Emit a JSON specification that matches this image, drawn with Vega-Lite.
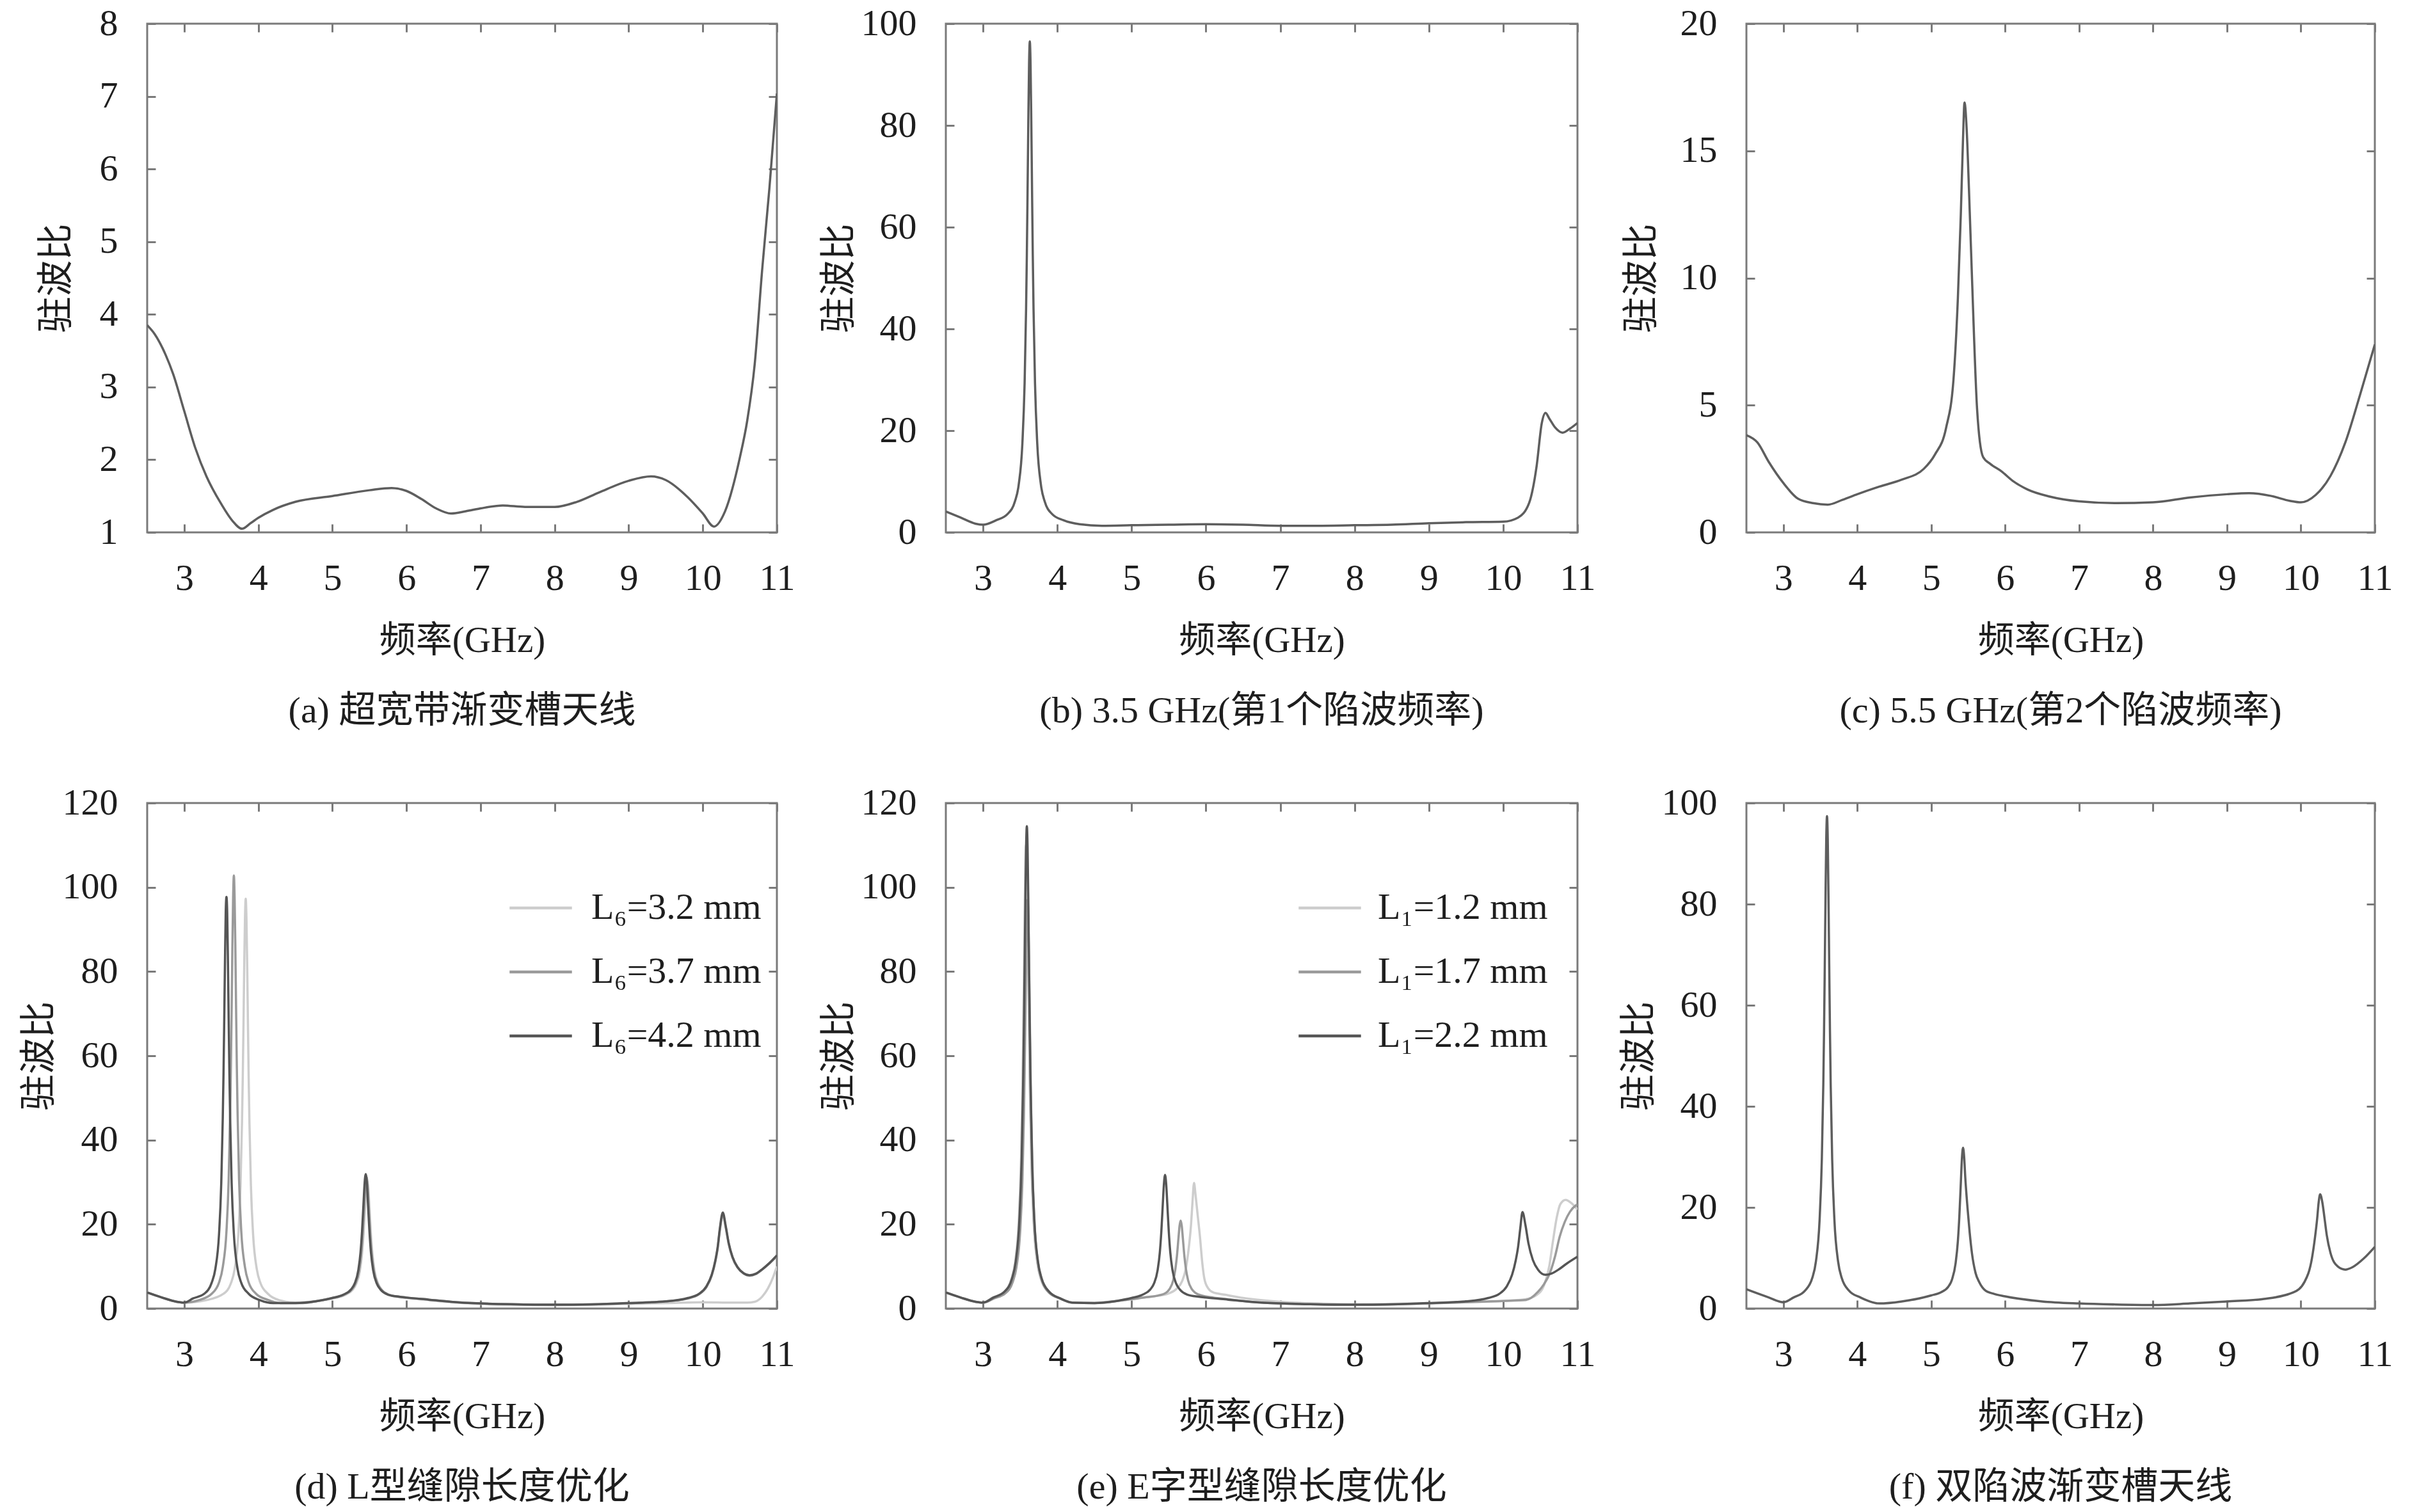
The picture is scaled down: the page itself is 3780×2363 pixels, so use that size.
{
"$schema": "https://vega.github.io/schema/vega-lite/v6.json",
"background": "#ffffff",
"padding": {"left": 30, "top": 6, "right": 10, "bottom": 10},
"bounds": "flush",
"columns": 3,
"spacing": {"row": 423, "column": 264},
"datasets": {
"a": [{"f":2.5,"v":3.85},{"f":2.6,"v":3.73},{"f":2.75,"v":3.44},{"f":2.85,"v":3.18},{"f":3.0,"v":2.67},{"f":3.15,"v":2.16},{"f":3.3,"v":1.77},{"f":3.5,"v":1.39},{"f":3.65,"v":1.16},{"f":3.78,"v":1.05},{"f":3.9,"v":1.13},{"f":4.0,"v":1.2},{"f":4.2,"v":1.31},{"f":4.5,"v":1.42},{"f":5.0,"v":1.5},{"f":5.5,"v":1.58},{"f":5.8,"v":1.61},{"f":6.0,"v":1.57},{"f":6.2,"v":1.46},{"f":6.4,"v":1.33},{"f":6.6,"v":1.26},{"f":6.8,"v":1.29},{"f":7.0,"v":1.33},{"f":7.3,"v":1.37},{"f":7.6,"v":1.35},{"f":8.0,"v":1.35},{"f":8.3,"v":1.42},{"f":8.6,"v":1.55},{"f":9.0,"v":1.71},{"f":9.3,"v":1.77},{"f":9.5,"v":1.72},{"f":9.8,"v":1.48},{"f":10.0,"v":1.26},{"f":10.15,"v":1.08},{"f":10.3,"v":1.29},{"f":10.5,"v":2.03},{"f":10.6,"v":2.54},{"f":10.7,"v":3.31},{"f":10.8,"v":4.6},{"f":10.9,"v":5.75},{"f":11.0,"v":7.04}],
"b": [{"f":2.5,"v":4.1},{"f":2.7,"v":2.9},{"f":2.9,"v":1.7},{"f":3.0,"v":1.5},{"f":3.18,"v":2.4},{"f":3.33,"v":3.6},{"f":3.43,"v":6.1},{"f":3.48,"v":9.3},{"f":3.53,"v":17.5},{"f":3.56,"v":29.3},{"f":3.58,"v":44},{"f":3.59,"v":54.5},{"f":3.6,"v":67.3},{"f":3.61,"v":80.8},{"f":3.62,"v":92},{"f":3.63,"v":96.5},{"f":3.64,"v":92},{"f":3.65,"v":80.8},{"f":3.66,"v":67.3},{"f":3.67,"v":54.5},{"f":3.68,"v":44},{"f":3.7,"v":29.3},{"f":3.73,"v":17.5},{"f":3.78,"v":9.3},{"f":3.83,"v":6.1},{"f":3.93,"v":3.6},{"f":4.08,"v":2.4},{"f":4.3,"v":1.6},{"f":4.6,"v":1.3},{"f":5.0,"v":1.4},{"f":5.5,"v":1.5},{"f":6.0,"v":1.6},{"f":6.5,"v":1.5},{"f":7.0,"v":1.3},{"f":7.5,"v":1.3},{"f":8.0,"v":1.4},{"f":8.5,"v":1.5},{"f":9.0,"v":1.8},{"f":9.5,"v":2.0},{"f":10.0,"v":2.1},{"f":10.2,"v":2.9},{"f":10.35,"v":5.8},{"f":10.45,"v":13},{"f":10.52,"v":21.5},{"f":10.57,"v":23.5},{"f":10.62,"v":22.4},{"f":10.7,"v":20.6},{"f":10.8,"v":19.6},{"f":10.9,"v":20.4},{"f":11.0,"v":21.5}],
"c": [{"f":2.5,"v":3.82},{"f":2.65,"v":3.53},{"f":2.8,"v":2.78},{"f":3.0,"v":1.94},{"f":3.2,"v":1.32},{"f":3.4,"v":1.15},{"f":3.6,"v":1.09},{"f":3.8,"v":1.28},{"f":4.0,"v":1.5},{"f":4.3,"v":1.8},{"f":4.6,"v":2.07},{"f":4.9,"v":2.5},{"f":5.05,"v":3.06},{"f":5.2,"v":4.1},{"f":5.3,"v":5.98},{"f":5.36,"v":9.2},{"f":5.4,"v":12.5},{"f":5.43,"v":15.5},{"f":5.45,"v":16.9},{"f":5.48,"v":15.8},{"f":5.51,"v":13.5},{"f":5.55,"v":10.1},{"f":5.62,"v":4.85},{"f":5.7,"v":2.97},{"f":5.8,"v":2.69},{"f":5.95,"v":2.4},{"f":6.1,"v":2.03},{"f":6.3,"v":1.69},{"f":6.6,"v":1.41},{"f":7.0,"v":1.22},{"f":7.5,"v":1.15},{"f":8.0,"v":1.18},{"f":8.5,"v":1.37},{"f":9.0,"v":1.5},{"f":9.3,"v":1.54},{"f":9.6,"v":1.43},{"f":9.85,"v":1.24},{"f":10.0,"v":1.18},{"f":10.2,"v":1.47},{"f":10.4,"v":2.22},{"f":10.6,"v":3.53},{"f":10.8,"v":5.41},{"f":11.0,"v":7.39}],
"d": [
{"s":"L₆=3.2 mm","f":2.5,"v":3.8},{"s":"L₆=3.2 mm","f":2.7,"v":2.6},{"s":"L₆=3.2 mm","f":2.9,"v":1.6},{"s":"L₆=3.2 mm","f":3.0,"v":1.4},{"s":"L₆=3.2 mm","f":3.3,"v":2.0},{"s":"L₆=3.2 mm","f":3.53,"v":3.5},{"s":"L₆=3.2 mm","f":3.63,"v":6.0},{"s":"L₆=3.2 mm","f":3.68,"v":9.3},{"s":"L₆=3.2 mm","f":3.73,"v":17.5},{"s":"L₆=3.2 mm","f":3.76,"v":29.3},{"s":"L₆=3.2 mm","f":3.78,"v":44.3},{"s":"L₆=3.2 mm","f":3.79,"v":54.7},{"s":"L₆=3.2 mm","f":3.8,"v":67.5},{"s":"L₆=3.2 mm","f":3.81,"v":81.5},{"s":"L₆=3.2 mm","f":3.82,"v":92.5},{"s":"L₆=3.2 mm","f":3.83,"v":97.3},{"s":"L₆=3.2 mm","f":3.84,"v":92.5},{"s":"L₆=3.2 mm","f":3.85,"v":81.5},{"s":"L₆=3.2 mm","f":3.86,"v":67.5},{"s":"L₆=3.2 mm","f":3.87,"v":54.7},{"s":"L₆=3.2 mm","f":3.88,"v":44.3},{"s":"L₆=3.2 mm","f":3.9,"v":29.3},{"s":"L₆=3.2 mm","f":3.93,"v":17.5},{"s":"L₆=3.2 mm","f":3.98,"v":9.3},{"s":"L₆=3.2 mm","f":4.03,"v":6.0},{"s":"L₆=3.2 mm","f":4.13,"v":3.5},{"s":"L₆=3.2 mm","f":4.28,"v":2.0},{"s":"L₆=3.2 mm","f":4.5,"v":1.4},{"s":"L₆=3.2 mm","f":4.8,"v":1.8},{"s":"L₆=3.2 mm","f":5.0,"v":2.4},{"s":"L₆=3.2 mm","f":5.17,"v":3.2},{"s":"L₆=3.2 mm","f":5.27,"v":4.4},{"s":"L₆=3.2 mm","f":5.32,"v":5.8},{"s":"L₆=3.2 mm","f":5.37,"v":8.8},{"s":"L₆=3.2 mm","f":5.4,"v":13},{"s":"L₆=3.2 mm","f":5.42,"v":17.6},{"s":"L₆=3.2 mm","f":5.44,"v":24},{"s":"L₆=3.2 mm","f":5.455,"v":28.5},{"s":"L₆=3.2 mm","f":5.47,"v":30.3},{"s":"L₆=3.2 mm","f":5.485,"v":28.5},{"s":"L₆=3.2 mm","f":5.5,"v":24},{"s":"L₆=3.2 mm","f":5.52,"v":17.6},{"s":"L₆=3.2 mm","f":5.54,"v":13},{"s":"L₆=3.2 mm","f":5.57,"v":8.8},{"s":"L₆=3.2 mm","f":5.62,"v":5.8},{"s":"L₆=3.2 mm","f":5.67,"v":4.4},{"s":"L₆=3.2 mm","f":5.77,"v":3.2},{"s":"L₆=3.2 mm","f":5.9,"v":2.7},{"s":"L₆=3.2 mm","f":6.0,"v":2.5},{"s":"L₆=3.2 mm","f":6.3,"v":2.0},{"s":"L₆=3.2 mm","f":6.6,"v":1.5},{"s":"L₆=3.2 mm","f":7.0,"v":1.1},{"s":"L₆=3.2 mm","f":7.5,"v":0.9},{"s":"L₆=3.2 mm","f":8.0,"v":0.8},{"s":"L₆=3.2 mm","f":8.5,"v":0.9},{"s":"L₆=3.2 mm","f":9.0,"v":1.1},{"s":"L₆=3.2 mm","f":9.5,"v":1.3},{"s":"L₆=3.2 mm","f":10.0,"v":1.5},{"s":"L₆=3.2 mm","f":10.4,"v":1.4},{"s":"L₆=3.2 mm","f":10.6,"v":1.4},{"s":"L₆=3.2 mm","f":10.7,"v":1.6},{"s":"L₆=3.2 mm","f":10.8,"v":2.8},{"s":"L₆=3.2 mm","f":10.88,"v":4.8},{"s":"L₆=3.2 mm","f":10.95,"v":7.5},{"s":"L₆=3.2 mm","f":11.0,"v":10.0},
{"s":"L₆=3.7 mm","f":2.5,"v":3.8},{"s":"L₆=3.7 mm","f":2.7,"v":2.6},{"s":"L₆=3.7 mm","f":2.9,"v":1.6},{"s":"L₆=3.7 mm","f":3.0,"v":1.4},{"s":"L₆=3.7 mm","f":3.2,"v":2.0},{"s":"L₆=3.7 mm","f":3.37,"v":3.5},{"s":"L₆=3.7 mm","f":3.47,"v":6.2},{"s":"L₆=3.7 mm","f":3.52,"v":9.8},{"s":"L₆=3.7 mm","f":3.57,"v":18.3},{"s":"L₆=3.7 mm","f":3.6,"v":30.7},{"s":"L₆=3.7 mm","f":3.62,"v":46.5},{"s":"L₆=3.7 mm","f":3.63,"v":57.5},{"s":"L₆=3.7 mm","f":3.64,"v":71},{"s":"L₆=3.7 mm","f":3.65,"v":86},{"s":"L₆=3.7 mm","f":3.66,"v":97.5},{"s":"L₆=3.7 mm","f":3.67,"v":102.8},{"s":"L₆=3.7 mm","f":3.68,"v":97.5},{"s":"L₆=3.7 mm","f":3.69,"v":86},{"s":"L₆=3.7 mm","f":3.7,"v":71},{"s":"L₆=3.7 mm","f":3.71,"v":57.5},{"s":"L₆=3.7 mm","f":3.72,"v":46.5},{"s":"L₆=3.7 mm","f":3.74,"v":30.7},{"s":"L₆=3.7 mm","f":3.77,"v":18.3},{"s":"L₆=3.7 mm","f":3.82,"v":9.8},{"s":"L₆=3.7 mm","f":3.87,"v":6.2},{"s":"L₆=3.7 mm","f":3.97,"v":3.5},{"s":"L₆=3.7 mm","f":4.12,"v":2.1},{"s":"L₆=3.7 mm","f":4.3,"v":1.3},{"s":"L₆=3.7 mm","f":4.6,"v":1.3},{"s":"L₆=3.7 mm","f":4.8,"v":1.8},{"s":"L₆=3.7 mm","f":5.0,"v":2.5},{"s":"L₆=3.7 mm","f":5.16,"v":3.3},{"s":"L₆=3.7 mm","f":5.26,"v":4.5},{"s":"L₆=3.7 mm","f":5.31,"v":5.9},{"s":"L₆=3.7 mm","f":5.36,"v":9.0},{"s":"L₆=3.7 mm","f":5.39,"v":13.2},{"s":"L₆=3.7 mm","f":5.41,"v":18},{"s":"L₆=3.7 mm","f":5.43,"v":24.5},{"s":"L₆=3.7 mm","f":5.445,"v":29.3},{"s":"L₆=3.7 mm","f":5.46,"v":31.2},{"s":"L₆=3.7 mm","f":5.475,"v":29.3},{"s":"L₆=3.7 mm","f":5.49,"v":24.5},{"s":"L₆=3.7 mm","f":5.51,"v":18},{"s":"L₆=3.7 mm","f":5.53,"v":13.2},{"s":"L₆=3.7 mm","f":5.56,"v":9.0},{"s":"L₆=3.7 mm","f":5.61,"v":5.9},{"s":"L₆=3.7 mm","f":5.66,"v":4.5},{"s":"L₆=3.7 mm","f":5.76,"v":3.3},{"s":"L₆=3.7 mm","f":5.9,"v":2.8},{"s":"L₆=3.7 mm","f":6.0,"v":2.6},{"s":"L₆=3.7 mm","f":6.3,"v":2.1},{"s":"L₆=3.7 mm","f":6.6,"v":1.6},{"s":"L₆=3.7 mm","f":7.0,"v":1.2},{"s":"L₆=3.7 mm","f":7.5,"v":1.0},{"s":"L₆=3.7 mm","f":8.0,"v":0.9},{"s":"L₆=3.7 mm","f":8.5,"v":1.0},{"s":"L₆=3.7 mm","f":9.0,"v":1.3},{"s":"L₆=3.7 mm","f":9.5,"v":1.7},{"s":"L₆=3.7 mm","f":9.8,"v":2.4},{"s":"L₆=3.7 mm","f":9.95,"v":3.4},{"s":"L₆=3.7 mm","f":10.05,"v":5.1},{"s":"L₆=3.7 mm","f":10.12,"v":7.8},{"s":"L₆=3.7 mm","f":10.17,"v":11.2},{"s":"L₆=3.7 mm","f":10.2,"v":14.2},{"s":"L₆=3.7 mm","f":10.23,"v":18.6},{"s":"L₆=3.7 mm","f":10.27,"v":22.3},{"s":"L₆=3.7 mm","f":10.31,"v":19.2},{"s":"L₆=3.7 mm","f":10.35,"v":15.3},{"s":"L₆=3.7 mm","f":10.4,"v":12.1},{"s":"L₆=3.7 mm","f":10.47,"v":9.7},{"s":"L₆=3.7 mm","f":10.55,"v":8.3},{"s":"L₆=3.7 mm","f":10.63,"v":7.8},{"s":"L₆=3.7 mm","f":10.72,"v":8.2},{"s":"L₆=3.7 mm","f":10.8,"v":9.2},{"s":"L₆=3.7 mm","f":10.9,"v":10.7},{"s":"L₆=3.7 mm","f":11.0,"v":12.4},
{"s":"L₆=4.2 mm","f":2.5,"v":3.8},{"s":"L₆=4.2 mm","f":2.7,"v":2.6},{"s":"L₆=4.2 mm","f":2.9,"v":1.6},{"s":"L₆=4.2 mm","f":3.0,"v":1.4},{"s":"L₆=4.2 mm","f":3.12,"v":2.4},{"s":"L₆=4.2 mm","f":3.27,"v":3.5},{"s":"L₆=4.2 mm","f":3.37,"v":6.1},{"s":"L₆=4.2 mm","f":3.42,"v":9.4},{"s":"L₆=4.2 mm","f":3.47,"v":17.7},{"s":"L₆=4.2 mm","f":3.5,"v":29.8},{"s":"L₆=4.2 mm","f":3.52,"v":45},{"s":"L₆=4.2 mm","f":3.53,"v":55.5},{"s":"L₆=4.2 mm","f":3.54,"v":68.5},{"s":"L₆=4.2 mm","f":3.55,"v":82.5},{"s":"L₆=4.2 mm","f":3.56,"v":94},{"s":"L₆=4.2 mm","f":3.57,"v":97.7},{"s":"L₆=4.2 mm","f":3.58,"v":94},{"s":"L₆=4.2 mm","f":3.59,"v":82.5},{"s":"L₆=4.2 mm","f":3.6,"v":68.5},{"s":"L₆=4.2 mm","f":3.61,"v":55.5},{"s":"L₆=4.2 mm","f":3.62,"v":45},{"s":"L₆=4.2 mm","f":3.64,"v":29.8},{"s":"L₆=4.2 mm","f":3.67,"v":17.7},{"s":"L₆=4.2 mm","f":3.72,"v":9.4},{"s":"L₆=4.2 mm","f":3.77,"v":6.1},{"s":"L₆=4.2 mm","f":3.87,"v":3.5},{"s":"L₆=4.2 mm","f":4.02,"v":2.0},{"s":"L₆=4.2 mm","f":4.2,"v":1.3},{"s":"L₆=4.2 mm","f":4.5,"v":1.3},{"s":"L₆=4.2 mm","f":4.8,"v":1.8},{"s":"L₆=4.2 mm","f":5.0,"v":2.5},{"s":"L₆=4.2 mm","f":5.15,"v":3.3},{"s":"L₆=4.2 mm","f":5.25,"v":4.5},{"s":"L₆=4.2 mm","f":5.3,"v":5.9},{"s":"L₆=4.2 mm","f":5.35,"v":9.1},{"s":"L₆=4.2 mm","f":5.38,"v":13.4},{"s":"L₆=4.2 mm","f":5.4,"v":18.3},{"s":"L₆=4.2 mm","f":5.42,"v":24.9},{"s":"L₆=4.2 mm","f":5.435,"v":29.8},{"s":"L₆=4.2 mm","f":5.45,"v":31.9},{"s":"L₆=4.2 mm","f":5.465,"v":29.8},{"s":"L₆=4.2 mm","f":5.48,"v":24.9},{"s":"L₆=4.2 mm","f":5.5,"v":18.3},{"s":"L₆=4.2 mm","f":5.52,"v":13.4},{"s":"L₆=4.2 mm","f":5.55,"v":9.1},{"s":"L₆=4.2 mm","f":5.6,"v":5.9},{"s":"L₆=4.2 mm","f":5.65,"v":4.5},{"s":"L₆=4.2 mm","f":5.75,"v":3.3},{"s":"L₆=4.2 mm","f":5.9,"v":2.8},{"s":"L₆=4.2 mm","f":6.0,"v":2.6},{"s":"L₆=4.2 mm","f":6.3,"v":2.1},{"s":"L₆=4.2 mm","f":6.6,"v":1.6},{"s":"L₆=4.2 mm","f":7.0,"v":1.2},{"s":"L₆=4.2 mm","f":7.5,"v":1.0},{"s":"L₆=4.2 mm","f":8.0,"v":0.9},{"s":"L₆=4.2 mm","f":8.5,"v":1.0},{"s":"L₆=4.2 mm","f":9.0,"v":1.3},{"s":"L₆=4.2 mm","f":9.5,"v":1.7},{"s":"L₆=4.2 mm","f":9.8,"v":2.5},{"s":"L₆=4.2 mm","f":9.95,"v":3.5},{"s":"L₆=4.2 mm","f":10.05,"v":5.3},{"s":"L₆=4.2 mm","f":10.12,"v":8.0},{"s":"L₆=4.2 mm","f":10.17,"v":11.5},{"s":"L₆=4.2 mm","f":10.2,"v":14.5},{"s":"L₆=4.2 mm","f":10.23,"v":19},{"s":"L₆=4.2 mm","f":10.27,"v":22.8},{"s":"L₆=4.2 mm","f":10.31,"v":19.5},{"s":"L₆=4.2 mm","f":10.35,"v":15.5},{"s":"L₆=4.2 mm","f":10.4,"v":12.3},{"s":"L₆=4.2 mm","f":10.47,"v":9.8},{"s":"L₆=4.2 mm","f":10.55,"v":8.4},{"s":"L₆=4.2 mm","f":10.63,"v":7.9},{"s":"L₆=4.2 mm","f":10.72,"v":8.3},{"s":"L₆=4.2 mm","f":10.8,"v":9.3},{"s":"L₆=4.2 mm","f":10.9,"v":10.8},{"s":"L₆=4.2 mm","f":11.0,"v":12.6}],
"e": [
{"s":"L₁=1.2 mm","f":2.5,"v":3.8},{"s":"L₁=1.2 mm","f":2.7,"v":2.6},{"s":"L₁=1.2 mm","f":2.9,"v":1.6},{"s":"L₁=1.2 mm","f":3.0,"v":1.4},{"s":"L₁=1.2 mm","f":3.13,"v":2.6},{"s":"L₁=1.2 mm","f":3.28,"v":3.9},{"s":"L₁=1.2 mm","f":3.38,"v":6.9},{"s":"L₁=1.2 mm","f":3.43,"v":10.8},{"s":"L₁=1.2 mm","f":3.48,"v":20.5},{"s":"L₁=1.2 mm","f":3.51,"v":34.3},{"s":"L₁=1.2 mm","f":3.53,"v":51.5},{"s":"L₁=1.2 mm","f":3.54,"v":63.7},{"s":"L₁=1.2 mm","f":3.55,"v":78},{"s":"L₁=1.2 mm","f":3.56,"v":93},{"s":"L₁=1.2 mm","f":3.57,"v":105.5},{"s":"L₁=1.2 mm","f":3.58,"v":110},{"s":"L₁=1.2 mm","f":3.59,"v":105.5},{"s":"L₁=1.2 mm","f":3.6,"v":93},{"s":"L₁=1.2 mm","f":3.61,"v":78},{"s":"L₁=1.2 mm","f":3.62,"v":63.7},{"s":"L₁=1.2 mm","f":3.63,"v":51.5},{"s":"L₁=1.2 mm","f":3.65,"v":34.3},{"s":"L₁=1.2 mm","f":3.68,"v":20.5},{"s":"L₁=1.2 mm","f":3.73,"v":10.8},{"s":"L₁=1.2 mm","f":3.78,"v":6.9},{"s":"L₁=1.2 mm","f":3.88,"v":3.9},{"s":"L₁=1.2 mm","f":4.03,"v":2.4},{"s":"L₁=1.2 mm","f":4.2,"v":1.4},{"s":"L₁=1.2 mm","f":4.5,"v":1.3},{"s":"L₁=1.2 mm","f":4.8,"v":1.8},{"s":"L₁=1.2 mm","f":5.0,"v":2.4},{"s":"L₁=1.2 mm","f":5.3,"v":2.9},{"s":"L₁=1.2 mm","f":5.5,"v":3.6},{"s":"L₁=1.2 mm","f":5.6,"v":4.6},{"s":"L₁=1.2 mm","f":5.68,"v":6.5},{"s":"L₁=1.2 mm","f":5.73,"v":9.5},{"s":"L₁=1.2 mm","f":5.77,"v":14.5},{"s":"L₁=1.2 mm","f":5.8,"v":20},{"s":"L₁=1.2 mm","f":5.82,"v":25.5},{"s":"L₁=1.2 mm","f":5.84,"v":29.8},{"s":"L₁=1.2 mm","f":5.86,"v":27},{"s":"L₁=1.2 mm","f":5.89,"v":22},{"s":"L₁=1.2 mm","f":5.92,"v":17},{"s":"L₁=1.2 mm","f":5.95,"v":11},{"s":"L₁=1.2 mm","f":5.98,"v":7},{"s":"L₁=1.2 mm","f":6.03,"v":4.8},{"s":"L₁=1.2 mm","f":6.1,"v":3.8},{"s":"L₁=1.2 mm","f":6.25,"v":3.3},{"s":"L₁=1.2 mm","f":6.5,"v":2.5},{"s":"L₁=1.2 mm","f":7.0,"v":1.6},{"s":"L₁=1.2 mm","f":7.5,"v":1.2},{"s":"L₁=1.2 mm","f":8.0,"v":1.0},{"s":"L₁=1.2 mm","f":8.5,"v":1.1},{"s":"L₁=1.2 mm","f":9.0,"v":1.3},{"s":"L₁=1.2 mm","f":9.5,"v":1.5},{"s":"L₁=1.2 mm","f":10.0,"v":1.8},{"s":"L₁=1.2 mm","f":10.3,"v":2.2},{"s":"L₁=1.2 mm","f":10.45,"v":3.2},{"s":"L₁=1.2 mm","f":10.55,"v":5.5},{"s":"L₁=1.2 mm","f":10.62,"v":10},{"s":"L₁=1.2 mm","f":10.67,"v":16},{"s":"L₁=1.2 mm","f":10.72,"v":21.5},{"s":"L₁=1.2 mm","f":10.77,"v":24.8},{"s":"L₁=1.2 mm","f":10.84,"v":25.8},{"s":"L₁=1.2 mm","f":10.92,"v":25},{"s":"L₁=1.2 mm","f":11.0,"v":23.5},
{"s":"L₁=1.7 mm","f":2.5,"v":3.8},{"s":"L₁=1.7 mm","f":2.7,"v":2.6},{"s":"L₁=1.7 mm","f":2.9,"v":1.6},{"s":"L₁=1.7 mm","f":3.0,"v":1.4},{"s":"L₁=1.7 mm","f":3.15,"v":2.4},{"s":"L₁=1.7 mm","f":3.3,"v":3.6},{"s":"L₁=1.7 mm","f":3.4,"v":6.3},{"s":"L₁=1.7 mm","f":3.45,"v":9.8},{"s":"L₁=1.7 mm","f":3.5,"v":18.3},{"s":"L₁=1.7 mm","f":3.53,"v":30.3},{"s":"L₁=1.7 mm","f":3.55,"v":45.2},{"s":"L₁=1.7 mm","f":3.56,"v":56},{"s":"L₁=1.7 mm","f":3.57,"v":68.6},{"s":"L₁=1.7 mm","f":3.58,"v":82},{"s":"L₁=1.7 mm","f":3.59,"v":93},{"s":"L₁=1.7 mm","f":3.6,"v":97},{"s":"L₁=1.7 mm","f":3.61,"v":93},{"s":"L₁=1.7 mm","f":3.62,"v":82},{"s":"L₁=1.7 mm","f":3.63,"v":68.6},{"s":"L₁=1.7 mm","f":3.64,"v":56},{"s":"L₁=1.7 mm","f":3.65,"v":45.2},{"s":"L₁=1.7 mm","f":3.67,"v":30.3},{"s":"L₁=1.7 mm","f":3.7,"v":18.3},{"s":"L₁=1.7 mm","f":3.75,"v":9.8},{"s":"L₁=1.7 mm","f":3.8,"v":6.3},{"s":"L₁=1.7 mm","f":3.9,"v":3.6},{"s":"L₁=1.7 mm","f":4.05,"v":2.3},{"s":"L₁=1.7 mm","f":4.2,"v":1.4},{"s":"L₁=1.7 mm","f":4.5,"v":1.3},{"s":"L₁=1.7 mm","f":4.8,"v":1.8},{"s":"L₁=1.7 mm","f":5.0,"v":2.2},{"s":"L₁=1.7 mm","f":5.2,"v":2.7},{"s":"L₁=1.7 mm","f":5.36,"v":3.1},{"s":"L₁=1.7 mm","f":5.46,"v":3.7},{"s":"L₁=1.7 mm","f":5.51,"v":4.6},{"s":"L₁=1.7 mm","f":5.56,"v":6.7},{"s":"L₁=1.7 mm","f":5.59,"v":9.5},{"s":"L₁=1.7 mm","f":5.61,"v":12.5},{"s":"L₁=1.7 mm","f":5.63,"v":16.6},{"s":"L₁=1.7 mm","f":5.645,"v":19.6},{"s":"L₁=1.7 mm","f":5.66,"v":20.9},{"s":"L₁=1.7 mm","f":5.675,"v":19.6},{"s":"L₁=1.7 mm","f":5.69,"v":16.6},{"s":"L₁=1.7 mm","f":5.71,"v":12.5},{"s":"L₁=1.7 mm","f":5.73,"v":9.5},{"s":"L₁=1.7 mm","f":5.76,"v":6.7},{"s":"L₁=1.7 mm","f":5.81,"v":4.6},{"s":"L₁=1.7 mm","f":5.86,"v":3.7},{"s":"L₁=1.7 mm","f":5.96,"v":3.0},{"s":"L₁=1.7 mm","f":6.1,"v":2.6},{"s":"L₁=1.7 mm","f":6.3,"v":2.2},{"s":"L₁=1.7 mm","f":6.6,"v":1.6},{"s":"L₁=1.7 mm","f":7.0,"v":1.2},{"s":"L₁=1.7 mm","f":7.5,"v":1.0},{"s":"L₁=1.7 mm","f":8.0,"v":0.9},{"s":"L₁=1.7 mm","f":8.5,"v":1.0},{"s":"L₁=1.7 mm","f":9.0,"v":1.2},{"s":"L₁=1.7 mm","f":9.5,"v":1.5},{"s":"L₁=1.7 mm","f":10.0,"v":1.8},{"s":"L₁=1.7 mm","f":10.3,"v":2.0},{"s":"L₁=1.7 mm","f":10.47,"v":4.0},{"s":"L₁=1.7 mm","f":10.55,"v":5.8},{"s":"L₁=1.7 mm","f":10.63,"v":8.5},{"s":"L₁=1.7 mm","f":10.7,"v":12.5},{"s":"L₁=1.7 mm","f":10.76,"v":17},{"s":"L₁=1.7 mm","f":10.83,"v":20.6},{"s":"L₁=1.7 mm","f":10.9,"v":23},{"s":"L₁=1.7 mm","f":10.98,"v":24.5},{"s":"L₁=1.7 mm","f":11.0,"v":24.7},
{"s":"L₁=2.2 mm","f":2.5,"v":3.8},{"s":"L₁=2.2 mm","f":2.7,"v":2.6},{"s":"L₁=2.2 mm","f":2.9,"v":1.6},{"s":"L₁=2.2 mm","f":3.0,"v":1.4},{"s":"L₁=2.2 mm","f":3.14,"v":2.6},{"s":"L₁=2.2 mm","f":3.29,"v":4.0},{"s":"L₁=2.2 mm","f":3.39,"v":7.1},{"s":"L₁=2.2 mm","f":3.44,"v":11.1},{"s":"L₁=2.2 mm","f":3.49,"v":21.1},{"s":"L₁=2.2 mm","f":3.52,"v":35.4},{"s":"L₁=2.2 mm","f":3.54,"v":53.2},{"s":"L₁=2.2 mm","f":3.55,"v":65.8},{"s":"L₁=2.2 mm","f":3.56,"v":80.7},{"s":"L₁=2.2 mm","f":3.57,"v":96.4},{"s":"L₁=2.2 mm","f":3.58,"v":109.4},{"s":"L₁=2.2 mm","f":3.59,"v":114.5},{"s":"L₁=2.2 mm","f":3.6,"v":109.4},{"s":"L₁=2.2 mm","f":3.61,"v":96.4},{"s":"L₁=2.2 mm","f":3.62,"v":80.7},{"s":"L₁=2.2 mm","f":3.63,"v":65.8},{"s":"L₁=2.2 mm","f":3.64,"v":53.2},{"s":"L₁=2.2 mm","f":3.66,"v":35.4},{"s":"L₁=2.2 mm","f":3.69,"v":21.1},{"s":"L₁=2.2 mm","f":3.74,"v":11.1},{"s":"L₁=2.2 mm","f":3.79,"v":7.1},{"s":"L₁=2.2 mm","f":3.89,"v":4.0},{"s":"L₁=2.2 mm","f":4.04,"v":2.4},{"s":"L₁=2.2 mm","f":4.2,"v":1.4},{"s":"L₁=2.2 mm","f":4.5,"v":1.3},{"s":"L₁=2.2 mm","f":4.8,"v":1.8},{"s":"L₁=2.2 mm","f":5.0,"v":2.5},{"s":"L₁=2.2 mm","f":5.15,"v":3.3},{"s":"L₁=2.2 mm","f":5.25,"v":4.5},{"s":"L₁=2.2 mm","f":5.3,"v":5.9},{"s":"L₁=2.2 mm","f":5.35,"v":9.1},{"s":"L₁=2.2 mm","f":5.38,"v":13.4},{"s":"L₁=2.2 mm","f":5.4,"v":18.3},{"s":"L₁=2.2 mm","f":5.42,"v":24.9},{"s":"L₁=2.2 mm","f":5.435,"v":29.6},{"s":"L₁=2.2 mm","f":5.45,"v":31.7},{"s":"L₁=2.2 mm","f":5.465,"v":29.6},{"s":"L₁=2.2 mm","f":5.48,"v":24.9},{"s":"L₁=2.2 mm","f":5.5,"v":18.3},{"s":"L₁=2.2 mm","f":5.52,"v":13.4},{"s":"L₁=2.2 mm","f":5.55,"v":9.1},{"s":"L₁=2.2 mm","f":5.6,"v":5.9},{"s":"L₁=2.2 mm","f":5.65,"v":4.5},{"s":"L₁=2.2 mm","f":5.75,"v":3.3},{"s":"L₁=2.2 mm","f":5.9,"v":2.8},{"s":"L₁=2.2 mm","f":6.0,"v":2.6},{"s":"L₁=2.2 mm","f":6.3,"v":2.1},{"s":"L₁=2.2 mm","f":6.6,"v":1.6},{"s":"L₁=2.2 mm","f":7.0,"v":1.2},{"s":"L₁=2.2 mm","f":7.5,"v":1.0},{"s":"L₁=2.2 mm","f":8.0,"v":0.9},{"s":"L₁=2.2 mm","f":8.5,"v":1.0},{"s":"L₁=2.2 mm","f":9.0,"v":1.3},{"s":"L₁=2.2 mm","f":9.5,"v":1.7},{"s":"L₁=2.2 mm","f":9.8,"v":2.5},{"s":"L₁=2.2 mm","f":9.95,"v":3.5},{"s":"L₁=2.2 mm","f":10.05,"v":5.3},{"s":"L₁=2.2 mm","f":10.12,"v":8.0},{"s":"L₁=2.2 mm","f":10.17,"v":11.5},{"s":"L₁=2.2 mm","f":10.2,"v":14.5},{"s":"L₁=2.2 mm","f":10.23,"v":19},{"s":"L₁=2.2 mm","f":10.26,"v":22.9},{"s":"L₁=2.2 mm","f":10.3,"v":19.8},{"s":"L₁=2.2 mm","f":10.34,"v":15.5},{"s":"L₁=2.2 mm","f":10.4,"v":11.5},{"s":"L₁=2.2 mm","f":10.47,"v":9.2},{"s":"L₁=2.2 mm","f":10.57,"v":8.0},{"s":"L₁=2.2 mm","f":10.65,"v":8.3},{"s":"L₁=2.2 mm","f":10.75,"v":9.3},{"s":"L₁=2.2 mm","f":10.85,"v":10.6},{"s":"L₁=2.2 mm","f":11.0,"v":12.3}],
"f": [{"f":2.5,"v":3.8},{"f":2.8,"v":2.2},{"f":3.0,"v":1.25},{"f":3.14,"v":2.2},{"f":3.29,"v":3.5},{"f":3.39,"v":6.0},{"f":3.44,"v":9.3},{"f":3.49,"v":17.6},{"f":3.52,"v":29.5},{"f":3.54,"v":44.3},{"f":3.55,"v":54.9},{"f":3.56,"v":67.9},{"f":3.57,"v":81.6},{"f":3.58,"v":93},{"f":3.59,"v":97.4},{"f":3.6,"v":93},{"f":3.61,"v":81.6},{"f":3.62,"v":67.9},{"f":3.63,"v":54.9},{"f":3.64,"v":44.3},{"f":3.66,"v":29.5},{"f":3.69,"v":17.6},{"f":3.74,"v":9.3},{"f":3.79,"v":6.0},{"f":3.89,"v":3.5},{"f":4.04,"v":2.2},{"f":4.3,"v":1.0},{"f":4.6,"v":1.4},{"f":5.0,"v":2.6},{"f":5.13,"v":3.2},{"f":5.23,"v":4.3},{"f":5.28,"v":5.7},{"f":5.33,"v":9.0},{"f":5.36,"v":13.3},{"f":5.38,"v":18.2},{"f":5.4,"v":24.8},{"f":5.415,"v":29.7},{"f":5.43,"v":31.8},{"f":5.445,"v":30},{"f":5.46,"v":26},{"f":5.49,"v":20},{"f":5.52,"v":15},{"f":5.55,"v":11},{"f":5.6,"v":7},{"f":5.65,"v":5.2},{"f":5.73,"v":3.6},{"f":5.85,"v":2.9},{"f":6.0,"v":2.4},{"f":6.5,"v":1.4},{"f":7.0,"v":1.0},{"f":7.5,"v":0.8},{"f":8.0,"v":0.7},{"f":8.5,"v":1.0},{"f":9.0,"v":1.4},{"f":9.5,"v":1.9},{"f":9.9,"v":3.2},{"f":10.05,"v":5.3},{"f":10.15,"v":10},{"f":10.19,"v":14},{"f":10.22,"v":17.8},{"f":10.24,"v":21},{"f":10.26,"v":22.6},{"f":10.29,"v":21},{"f":10.32,"v":17.8},{"f":10.35,"v":14.5},{"f":10.4,"v":11},{"f":10.5,"v":8.3},{"f":10.6,"v":7.7},{"f":10.7,"v":8.2},{"f":10.85,"v":9.9},{"f":11.0,"v":12.2}]
},
"concat": [
  {"width": 984, "height": 795, "data": {"name": "a"},
   "title": {"text": "(a) 超宽带渐变槽天线", "orient": "bottom", "offset": 54},
   "layer": [
    {"mark": {"type": "line", "interpolate": "monotone", "color": "#5e5e5e", "strokeWidth": 3.5, "clip": true},
     "encoding": {
      "x": {"field": "f", "type": "quantitative", "scale": {"domain": [2.5, 11], "nice": false, "zero": false}, "axis": {"values": [3,4,5,6,7,8,9,10,11], "title": "频率(GHz)", "orient": "bottom"}},
      "y": {"field": "v", "type": "quantitative", "scale": {"domain": [1, 8], "nice": false, "zero": false}, "axis": {"values": [1,2,3,4,5,6,7,8], "title": "驻波比", "titlePadding": 38}}}},
    {"mark": {"type": "line", "opacity": 0},
     "encoding": {
      "x": {"field": "f", "type": "quantitative", "axis": {"values": [3,4,5,6,7,8,9,10,11], "orient": "top", "labels": false, "title": null}},
      "y": {"field": "v", "type": "quantitative", "axis": {"values": [1,2,3,4,5,6,7,8], "orient": "right", "labels": false, "title": null}}}}
   ],
   "resolve": {"axis": {"x": "independent", "y": "independent"}}},
  {"width": 987, "height": 795, "data": {"name": "b"},
   "title": {"text": "(b) 3.5 GHz(第1个陷波频率)", "orient": "bottom", "offset": 54},
   "layer": [
    {"mark": {"type": "line", "interpolate": "monotone", "color": "#5e5e5e", "strokeWidth": 3.5, "clip": true},
     "encoding": {
      "x": {"field": "f", "type": "quantitative", "scale": {"domain": [2.5, 11], "nice": false, "zero": false}, "axis": {"values": [3,4,5,6,7,8,9,10,11], "title": "频率(GHz)", "orient": "bottom"}},
      "y": {"field": "v", "type": "quantitative", "scale": {"domain": [0, 100], "nice": false}, "axis": {"values": [0,20,40,60,80,100], "title": "驻波比", "titlePadding": 5}}}},
    {"mark": {"type": "line", "opacity": 0},
     "encoding": {
      "x": {"field": "f", "type": "quantitative", "axis": {"values": [3,4,5,6,7,8,9,10,11], "orient": "top", "labels": false, "title": null}},
      "y": {"field": "v", "type": "quantitative", "axis": {"values": [0,20,40,60,80,100], "orient": "right", "labels": false, "title": null}}}}
   ],
   "resolve": {"axis": {"x": "independent", "y": "independent"}}},
  {"width": 982, "height": 795, "data": {"name": "c"},
   "title": {"text": "(c) 5.5 GHz(第2个陷波频率)", "orient": "bottom", "offset": 54},
   "layer": [
    {"mark": {"type": "line", "interpolate": "monotone", "color": "#5e5e5e", "strokeWidth": 3.5, "clip": true},
     "encoding": {
      "x": {"field": "f", "type": "quantitative", "scale": {"domain": [2.5, 11], "nice": false, "zero": false}, "axis": {"values": [3,4,5,6,7,8,9,10,11], "title": "频率(GHz)", "orient": "bottom"}},
      "y": {"field": "v", "type": "quantitative", "scale": {"domain": [0, 20], "nice": false}, "axis": {"values": [0,5,10,15,20], "title": "驻波比", "titlePadding": 31}}}},
    {"mark": {"type": "line", "opacity": 0},
     "encoding": {
      "x": {"field": "f", "type": "quantitative", "axis": {"values": [3,4,5,6,7,8,9,10,11], "orient": "top", "labels": false, "title": null}},
      "y": {"field": "v", "type": "quantitative", "axis": {"values": [0,5,10,15,20], "orient": "right", "labels": false, "title": null}}}}
   ],
   "resolve": {"axis": {"x": "independent", "y": "independent"}}},
  {"width": 984, "height": 790, "data": {"name": "d"},
   "title": {"text": "(d) L型缝隙长度优化", "orient": "bottom", "offset": 54},
   "layer": [
    {"mark": {"type": "line", "interpolate": "monotone", "strokeWidth": 3.5, "clip": true},
     "encoding": {
      "x": {"field": "f", "type": "quantitative", "scale": {"domain": [2.5, 11], "nice": false, "zero": false}, "axis": {"values": [3,4,5,6,7,8,9,10,11], "title": "频率(GHz)", "orient": "bottom"}},
      "y": {"field": "v", "type": "quantitative", "scale": {"domain": [0, 120], "nice": false}, "axis": {"values": [0,20,40,60,80,100,120], "title": "驻波比", "titlePadding": 7}},
      "color": {"field": "s", "type": "nominal", "scale": {"domain": ["L₆=3.2 mm","L₆=3.7 mm","L₆=4.2 mm"], "range": ["#cdcdcd","#9a9a9a","#555555"]},
       "legend": {"orient": "none", "legendX": 564, "legendY": 113, "title": null, "symbolType": "stroke", "symbolSize": 9500, "symbolStrokeWidth": 4.5, "labelFontSize": 58, "labelOffset": 28, "labelLimit": 600, "rowPadding": 20, "padding": 0}}}},
    {"mark": {"type": "line", "opacity": 0},
     "encoding": {
      "x": {"field": "f", "type": "quantitative", "axis": {"values": [3,4,5,6,7,8,9,10,11], "orient": "top", "labels": false, "title": null}},
      "y": {"field": "v", "type": "quantitative", "axis": {"values": [0,20,40,60,80,100,120], "orient": "right", "labels": false, "title": null}}}}
   ],
   "resolve": {"axis": {"x": "independent", "y": "independent"}}},
  {"width": 987, "height": 790, "data": {"name": "e"},
   "title": {"text": "(e) E字型缝隙长度优化", "orient": "bottom", "offset": 54},
   "layer": [
    {"mark": {"type": "line", "interpolate": "monotone", "strokeWidth": 3.5, "clip": true},
     "encoding": {
      "x": {"field": "f", "type": "quantitative", "scale": {"domain": [2.5, 11], "nice": false, "zero": false}, "axis": {"values": [3,4,5,6,7,8,9,10,11], "title": "频率(GHz)", "orient": "bottom"}},
      "y": {"field": "v", "type": "quantitative", "scale": {"domain": [0, 120], "nice": false}, "axis": {"values": [0,20,40,60,80,100,120], "title": "驻波比", "titlePadding": 5}},
      "color": {"field": "s", "type": "nominal", "scale": {"domain": ["L₁=1.2 mm","L₁=1.7 mm","L₁=2.2 mm"], "range": ["#cdcdcd","#9a9a9a","#555555"]},
       "legend": {"orient": "none", "legendX": 549, "legendY": 113, "title": null, "symbolType": "stroke", "symbolSize": 9500, "symbolStrokeWidth": 4.5, "labelFontSize": 58, "labelOffset": 24, "labelLimit": 600, "rowPadding": 20, "padding": 0}}}},
    {"mark": {"type": "line", "opacity": 0},
     "encoding": {
      "x": {"field": "f", "type": "quantitative", "axis": {"values": [3,4,5,6,7,8,9,10,11], "orient": "top", "labels": false, "title": null}},
      "y": {"field": "v", "type": "quantitative", "axis": {"values": [0,20,40,60,80,100,120], "orient": "right", "labels": false, "title": null}}}}
   ],
   "resolve": {"axis": {"x": "independent", "y": "independent"}}},
  {"width": 982, "height": 790, "data": {"name": "f"},
   "title": {"text": "(f) 双陷波渐变槽天线", "orient": "bottom", "offset": 54},
   "layer": [
    {"mark": {"type": "line", "interpolate": "monotone", "color": "#5e5e5e", "strokeWidth": 3.5, "clip": true},
     "encoding": {
      "x": {"field": "f", "type": "quantitative", "scale": {"domain": [2.5, 11], "nice": false, "zero": false}, "axis": {"values": [3,4,5,6,7,8,9,10,11], "title": "频率(GHz)", "orient": "bottom"}},
      "y": {"field": "v", "type": "quantitative", "scale": {"domain": [0, 100], "nice": false}, "axis": {"values": [0,20,40,60,80,100], "title": "驻波比", "titlePadding": 6}}}},
    {"mark": {"type": "line", "opacity": 0},
     "encoding": {
      "x": {"field": "f", "type": "quantitative", "axis": {"values": [3,4,5,6,7,8,9,10,11], "orient": "top", "labels": false, "title": null}},
      "y": {"field": "v", "type": "quantitative", "axis": {"values": [0,20,40,60,80,100], "orient": "right", "labels": false, "title": null}}}}
   ],
   "resolve": {"axis": {"x": "independent", "y": "independent"}}}
],
"resolve": {"scale": {"x": "independent", "y": "independent", "color": "independent"}, "legend": {"color": "independent"}},
"config": {
 "font": "Liberation Serif, Noto Sans CJK SC",
 "view": {"stroke": "#7a7a7a", "strokeWidth": 3},
 "axis": {"domain": false, "grid": false, "ticks": true, "tickSize": -13, "tickWidth": 3, "tickColor": "#7a7a7a", "labelFontSize": 58, "labelColor": "#1e1e1e", "titleFontSize": 57, "titleFontWeight": "normal", "titleColor": "#1e1e1e", "labelFlush": false, "labelOverlap": false},
 "axisX": {"labelPadding": 56, "titlePadding": 40},
 "axisY": {"labelPadding": 59},
 "title": {"fontSize": 58, "fontWeight": "normal", "color": "#1e1e1e"},
 "legend": {"labelColor": "#1e1e1e", "labelFontSize": 58}
}
}
